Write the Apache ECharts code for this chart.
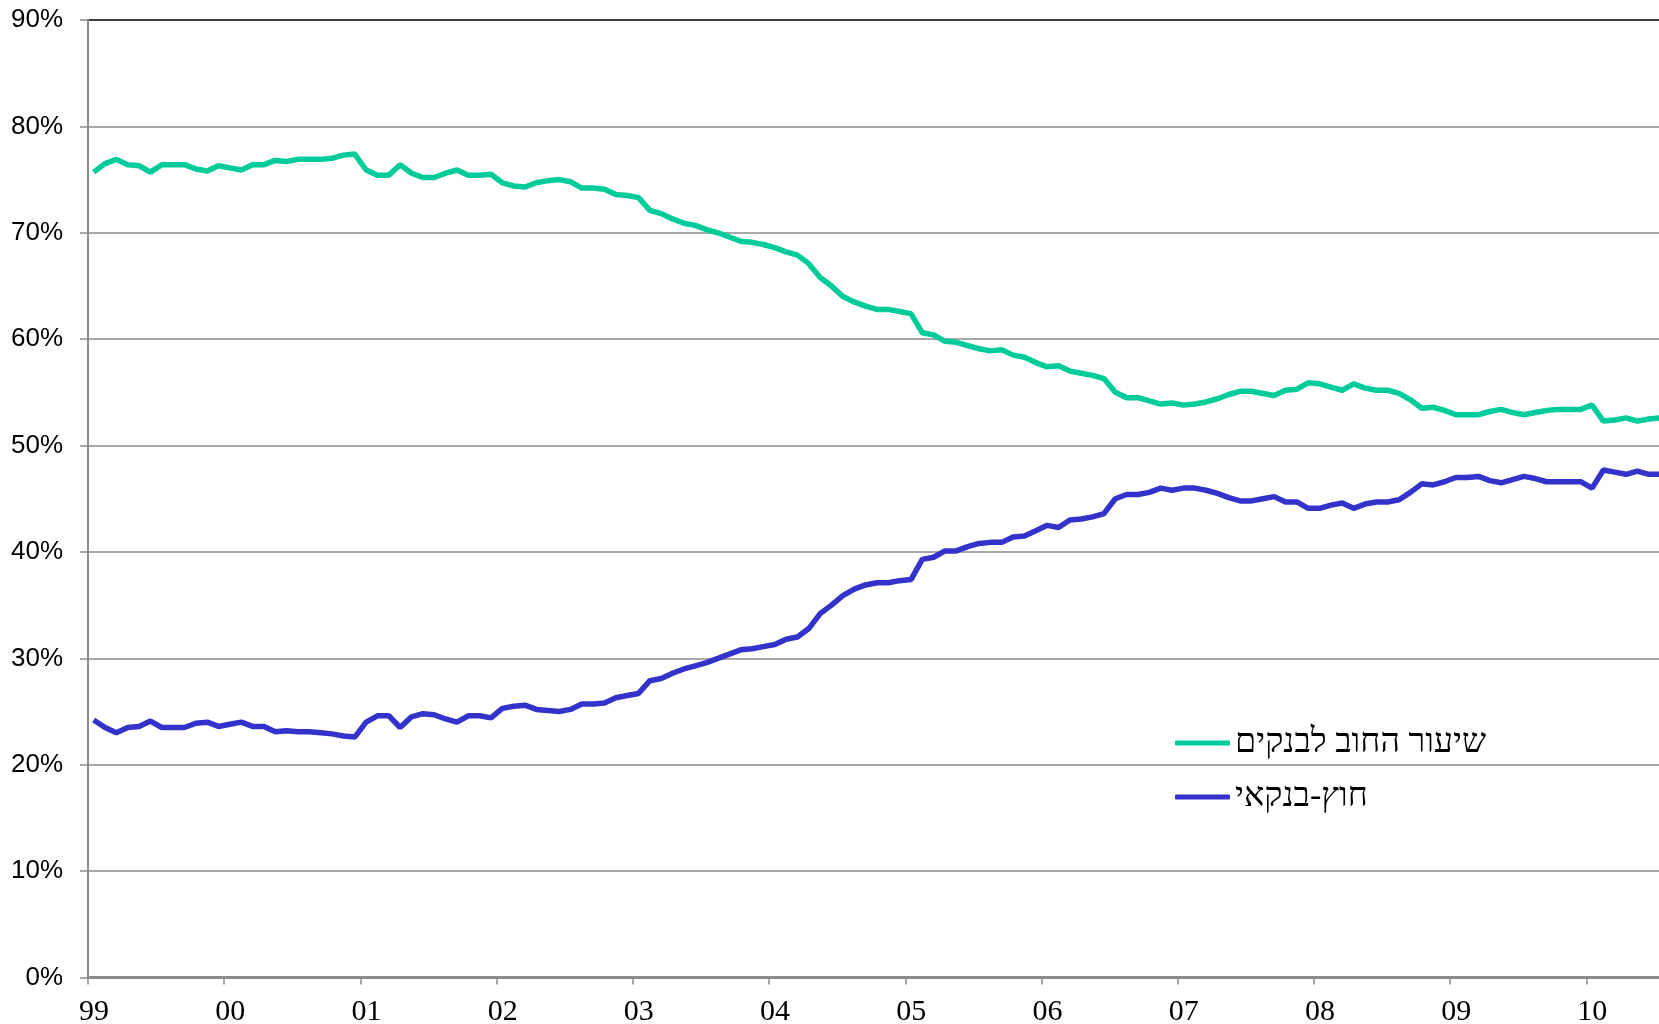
<!DOCTYPE html>
<html>
<head>
<meta charset="utf-8">
<title>chart</title>
<script src="https://cdn.jsdelivr.net/npm/echarts@6.0.0/dist/echarts.min.js"></script>
<style>
  html, body { margin: 0; padding: 0; background: #fff; }
  #chartMount { width: 1659px; height: 1024px; }
</style>
</head>
<body>
<div id="chartMount"></div>
<script>
  // monthly series, Jan 1999 .. Jul 2010 (percent)
  var yearLabels = ['99','00','01','02','03','04','05','06','07','08','09','10'];
  var seriesNames = ['שיעור החוב לבנקים', 'חוץ-בנקאי'];

  var bankShare = [
    75.7, 76.5, 76.9, 76.4, 76.3, 75.7, 76.4, 76.4, 76.4, 76.0, 75.8, 76.3,
    76.1, 75.9, 76.4, 76.4, 76.8, 76.7, 76.9, 76.9, 76.9, 77.0, 77.3, 77.4,
    75.9, 75.4, 75.4, 76.4, 75.6, 75.2, 75.2, 75.6, 75.9, 75.4, 75.4, 75.5,
    74.7, 74.4, 74.3, 74.7, 74.9, 75.0, 74.8, 74.2, 74.2, 74.1, 73.6, 73.5,
    73.3, 72.1, 71.8, 71.3, 70.9, 70.7, 70.3, 70.0, 69.6, 69.2, 69.1, 68.9,
    68.6, 68.2, 67.9, 67.1, 65.8, 65.0, 64.0, 63.5, 63.1, 62.8, 62.8, 62.6,
    62.4, 60.6, 60.4, 59.8, 59.7, 59.4, 59.1, 58.9, 59.0, 58.5, 58.3, 57.8,
    57.4, 57.5, 57.0, 56.8, 56.6, 56.3, 55.0, 54.5, 54.5, 54.2, 53.9, 54.0,
    53.8, 53.9, 54.1, 54.4, 54.8, 55.1, 55.1, 54.9, 54.7, 55.2, 55.3, 55.9,
    55.8, 55.5, 55.2, 55.8, 55.4, 55.2, 55.2, 54.9, 54.3, 53.5, 53.6, 53.3,
    52.9, 52.9, 52.9, 53.2, 53.4, 53.1, 52.9, 53.1, 53.3, 53.4, 53.4, 53.4,
    53.8, 52.3, 52.4, 52.6, 52.3, 52.5, 52.6
  ];

  var nonBankShare = [
    24.2, 23.5, 23.0, 23.5, 23.6, 24.1, 23.5, 23.5, 23.5, 23.9, 24.0, 23.6,
    23.8, 24.0, 23.6, 23.6, 23.1, 23.2, 23.1, 23.1, 23.0, 22.9, 22.7, 22.6,
    24.0, 24.6, 24.6, 23.5, 24.5, 24.8, 24.7, 24.3, 24.0, 24.6, 24.6, 24.4,
    25.3, 25.5, 25.6, 25.2, 25.1, 25.0, 25.2, 25.7, 25.7, 25.8, 26.3, 26.5,
    26.7, 27.9, 28.1, 28.6, 29.0, 29.3, 29.6, 30.0, 30.4, 30.8, 30.9, 31.1,
    31.3, 31.8, 32.0, 32.8, 34.2, 35.0, 35.9, 36.5, 36.9, 37.1, 37.1, 37.3,
    37.4, 39.3, 39.5, 40.1, 40.1, 40.5, 40.8, 40.9, 40.9, 41.4, 41.5, 42.0,
    42.5, 42.3, 43.0, 43.1, 43.3, 43.6, 45.0, 45.4, 45.4, 45.6, 46.0, 45.8,
    46.0, 46.0, 45.8, 45.5, 45.1, 44.8, 44.8, 45.0, 45.2, 44.7, 44.7, 44.1,
    44.1, 44.4, 44.6, 44.1, 44.5, 44.7, 44.7, 44.9, 45.6, 46.4, 46.3, 46.6,
    47.0, 47.0, 47.1, 46.7, 46.5, 46.8, 47.1, 46.9, 46.6, 46.6, 46.6, 46.6,
    46.0, 47.7, 47.5, 47.3, 47.6, 47.3, 47.3
  ];

  // points sit in the middle of each month, ticks at year starts
  function toPoints(arr){
    var out = [];
    for(var i = 0; i < arr.length; i++){
      out.push([i + 0.5, arr[i]]);
    }
    return out;
  }

  var gridColors = [];
  for(var k = 0; k < 9; k++){ gridColors.push('#8c8c8c'); }
  gridColors.push('#000');

  var app = echarts.init(document.getElementById('chartMount'));
  var option = {
    animation: false,
    backgroundColor: '#fff',
    grid: { left: 88, right: 0, top: 20, bottom: 46.5, outerBoundsMode: 'none' },
    legend: {
      orient: 'vertical',
      left: 1170,
      top: 721,
      itemWidth: 55,
      itemHeight: 5,
      itemGap: 20,
      icon: 'roundRect',
      textStyle: { color: '#000', fontSize: 34, fontFamily: 'Liberation Serif, DejaVu Serif, serif' },
      data: seriesNames
    },
    xAxis: {
      type: 'value',
      min: 0,
      max: 138.4,
      interval: 12,
      axisLine: { lineStyle: { color: '#8c8c8c', width: 3 } },
      axisTick: { length: 7, lineStyle: { color: '#8c8c8c', width: 1.5 } },
      splitLine: { show: false },
      axisLabel: {
        margin: 20,
        padding: [0, 0, 0, 12],
        color: '#000',
        fontSize: 30,
        fontFamily: 'Liberation Serif, Times New Roman, serif',
        showMaxLabel: false,
        formatter: function(v){
          return v % 12 === 0 ? yearLabels[v / 12] : '';
        }
      }
    },
    yAxis: {
      type: 'value',
      min: 0,
      max: 90,
      interval: 10,
      axisLine: { show: true, lineStyle: { color: '#8c8c8c', width: 2 } },
      axisTick: { show: true, length: 8, lineStyle: { color: '#8c8c8c', width: 1.5 } },
      splitLine: { show: true, lineStyle: { color: gridColors, width: 1.5 } },
      axisLabel: {
        margin: 25,
        color: '#000',
        fontSize: 26,
        fontFamily: 'Liberation Sans, Arial, sans-serif',
        formatter: '{value}%'
      }
    },
    series: [
      {
        name: seriesNames[0],
        type: 'line',
        symbol: 'none',
        color: '#00CC99',
        lineStyle: { width: 5.5, color: '#00CC99' },
        data: toPoints(bankShare)
      },
      {
        name: seriesNames[1],
        type: 'line',
        symbol: 'none',
        color: '#3333CC',
        lineStyle: { width: 5.5, color: '#3333CC' },
        data: toPoints(nonBankShare)
      }
    ]
  };

  app.setOption(option);
</script>
</body>
</html>
